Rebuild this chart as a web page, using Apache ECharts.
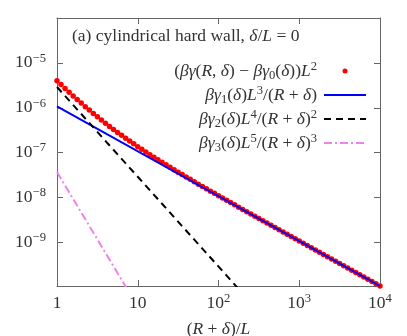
<!DOCTYPE html>
<html><head><meta charset="utf-8">
<script src="https://cdn.jsdelivr.net/npm/echarts@6/dist/echarts.min.js"></script>
<style>html,body{margin:0;padding:0;background:#fff}#c{width:407px;height:336px}</style>
</head><body><div id="c"></div>
<script>
// x grid of the red dots, (R+δ)/L
const redX = [1,1.122,1.259,1.413,1.585,1.778,1.995,2.239,2.512,2.818,3.162,3.548,3.981,4.467,5.012,5.623,6.310,7.079,7.943,8.913,
  10,11.22,12.59,14.13,15.85,17.78,19.95,22.39,25.12,28.18,31.62,35.48,39.81,44.67,50.12,56.23,63.10,70.79,79.43,89.13,
  100,112.2,125.9,141.3,158.5,177.8,199.5,223.9,251.2,281.8,316.2,354.8,398.1,446.7,501.2,562.3,631.0,707.9,794.3,891.3,
  1000,1122,1259,1413,1585,1778,1995,2239,2512,2818,3162,3548,3981,4467,5012,5623,6310,7079,7943,8913,10000];
// red dots, in units of 1e-6
const redY_e6 = [4.007,3.283,2.698,2.224,1.839,1.525,1.270,1.060,0.888,0.746,0.630,0.533,0.452,0.385,0.329,0.282,0.243,0.209,0.181,0.157,
  0.136,0.1184,0.1033,0.0903,0.0791,0.0693,0.0609,0.0536,0.0472,0.0416,0.0367,0.0325,0.0287,0.0254,0.0225,0.0199,0.0177,0.0157,0.0139,0.0124,
  0.0110,0.00977,0.00868,0.00772,0.00687,0.00611,0.00544,0.00484,0.00431,0.00383,0.00341,0.00304,0.00271,0.00241,0.00215,0.00191,0.00170,0.00152,0.00135,0.00121,
  0.00107,0.000954,0.000850,0.000758,0.000675,0.000602,0.000536,0.000478,0.000426,0.000380,0.000338,0.000302,0.000269,0.000240,0.000214,0.000190,0.000170,0.000151,0.000135,0.000120,0.000107];
// straight lines on log-log axes (end points)
const blueX = [1, 10000];
const blueY = [1.07e-6, 1.07e-10];
const blackX = [1, 200];
const blackY = [2.9e-6, 7.25e-11];
const pinkX = [1, 10];
const pinkY = [3.7e-8, 3.7e-11];
const xTickLabels = {0:'1', 1:'10', 2:'10{sup|2}', 3:'10{sup|3}', 4:'10{sup|4}'};
const yTickLabels = {'-5':'10{sup|−5}', '-6':'10{sup|−6}', '-7':'10{sup|−7}', '-8':'10{sup|−8}', '-9':'10{sup|−9}'};
const seriesNames = ['red','blue','black','pink'];
const legendLabels = {
  red: '({i|βγ}({i|R}, {i|δ}) − {i|βγ}{sub|0}({i|δ})){i|L}{sup|2}',
  blue: '{i|βγ}{sub|1}({i|δ}){i|L}{sup|3}/({i|R} + {i|δ})',
  black: '{i|βγ}{sub|2}({i|δ}){i|L}{sup|4}/({i|R} + {i|δ}){sup|2}',
  pink: '{i|βγ}{sub|3}({i|δ}){i|L}{sup|5}/({i|R} + {i|δ}){sup|3}'
};
const titleText = '(a) cylindrical hard wall, {i|δ}/{i|L} = 0';
const xName = '({i|R} + {i|δ})/{i|L}';

const FF = 'Liberation Serif';
const TC = '#333';
const AX = '#666';
const FS = 17.5;
const LFS = 17.5;
function mkRich(fs) {
  return {
    i: {fontFamily: FF, fontStyle: 'italic', fontSize: fs, color: TC, lineHeight: 22},
    sup: {fontFamily: FF, fontSize: fs * 0.72, color: TC, verticalAlign: 'top', lineHeight: 13},
    sub: {fontFamily: FF, fontSize: fs * 0.72, color: TC, verticalAlign: 'bottom', lineHeight: 13}
  };
}
const XMIN = 1, XMAX = 1e4, YMIN = 1.07e-10, YMAX = 1e-4;
function pair(xs, ys, k) { return xs.map((x, i) => [x, ys[i] * (k || 1)]); }
function near(v) { const e = Math.log10(v); const r = Math.round(e); return Math.abs(e - r) < 1e-3 ? r : null; }

const axisCommon = {
  axisLine: {show: true, onZero: false, lineStyle: {color: AX, width: 1}},
  axisTick: {show: true, inside: true, length: 6, lineStyle: {color: AX}},
  splitLine: {show: false}, minorTick: {show: false}
};
const chart = echarts.init(document.getElementById('c'), null, {renderer: 'canvas'});
chart.setOption({
  animation: false,
  backgroundColor: '#fff',
  title: {text: titleText, left: 72, top: 25, padding: 0,
    textStyle: {fontFamily: FF, fontSize: FS, fontWeight: 'normal', color: TC, lineHeight: 22, rich: mkRich(FS)}},
  grid: {left: 57, right: 27, top: 18, bottom: 50, containLabel: false, outerBoundsMode: 'none'},
  legend: {
    orient: 'vertical', right: 40, top: 60, align: 'right', padding: 0,
    itemWidth: 42, itemHeight: 5, itemGap: 2,
    data: [
      {name: 'red'},
      {name: 'blue', itemStyle: {opacity: 0}},
      {name: 'black', itemStyle: {opacity: 0}},
      {name: 'pink', itemStyle: {opacity: 0}}
    ],
    formatter: n => legendLabels[n],
    textStyle: {fontFamily: FF, fontSize: LFS, color: TC, lineHeight: 22, padding: [0, 2, 0, 0], rich: mkRich(LFS)}
  },
  xAxis: [
    Object.assign({}, axisCommon, {type: 'log', logBase: 10, min: XMIN, max: XMAX, position: 'bottom',
      axisLabel: {margin: 6, fontFamily: FF, fontSize: FS, color: TC, lineHeight: 22, rich: mkRich(FS),
        formatter: v => { const r = near(v); return r === null ? '' : xTickLabels[r]; }},
      name: xName, nameLocation: 'middle', nameGap: 23,
      nameTextStyle: {fontFamily: FF, fontSize: FS, color: TC, lineHeight: 22, rich: mkRich(FS)}}),
    Object.assign({}, axisCommon, {type: 'log', logBase: 10, min: XMIN, max: XMAX, position: 'top', axisLabel: {show: false}})
  ],
  yAxis: [
    Object.assign({}, axisCommon, {type: 'log', logBase: 10, min: YMIN, max: YMAX, position: 'left',
      axisLabel: {margin: 11, fontFamily: FF, fontSize: FS, color: TC, lineHeight: 22, rich: mkRich(FS),
        formatter: v => { const r = near(v); return (r === null || yTickLabels[r] === undefined) ? '' : yTickLabels[r]; }}}),
    Object.assign({}, axisCommon, {type: 'log', logBase: 10, min: YMIN, max: YMAX, position: 'right', axisLabel: {show: false}})
  ],
  series: [
    {name: 'red', type: 'scatter', data: pair(redX, redY_e6, 1e-6), symbol: 'circle', symbolSize: 5.5,
      itemStyle: {color: '#ff0000', opacity: 1}, clip: true, z: 2},
    {name: 'blue', type: 'line', data: pair(blueX, blueY), showSymbol: false, symbol: 'none',
      lineStyle: {color: '#0000ff', width: 2}, itemStyle: {color: '#0000ff'}, clip: true, z: 3},
    {name: 'black', type: 'line', data: pair(blackX, blackY), showSymbol: false, symbol: 'none',
      lineStyle: {color: '#000', width: 2, type: [7, 5]}, itemStyle: {color: '#000'}, clip: true, z: 3},
    {name: 'pink', type: 'line', data: pair(pinkX, pinkY), showSymbol: false, symbol: 'none',
      lineStyle: {color: '#ee82ee', width: 2, type: [8, 3, 2, 3]}, itemStyle: {color: '#ee82ee'}, clip: true, z: 3}
  ]
});
</script></body></html>
